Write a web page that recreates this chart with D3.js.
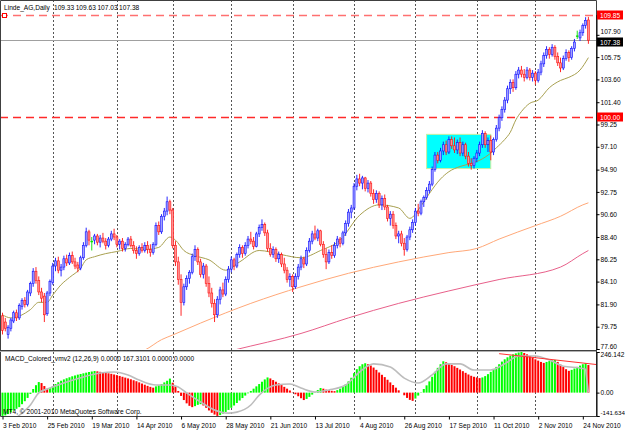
<!DOCTYPE html>
<html>
<head>
<meta charset="utf-8">
<script src="https://cdn.jsdelivr.net/npm/d3@7"></script>
<style>
  body { margin:0; background:#fff; }
  svg { display:block; font-family:"Liberation Sans", Arial, sans-serif; }
</style>
</head>
<body>
<svg id="drawing_region"></svg>
<script>
const symbolTitle = "Linde_AG,Daily";
const lastQuote = ["109.33", "109.63", "107.03", "107.38"];
const macdTitle = "MACD_Colored_vmv2 (12,26,9) 0.0000 167.3101 0.0000 0.0000";
const copyright = "MT4, \u00a9 2001-2010 MetaQuotes Software Corp.";

const dateLabels = ["3 Feb 2010","25 Feb 2010","19 Mar 2010","14 Apr 2010","6 May 2010","28 May 2010",
  "21 Jun 2010","13 Jul 2010","4 Aug 2010","26 Aug 2010","17 Sep 2010","11 Oct 2010","2 Nov 2010","24 Nov 2010"];
const dateLabelBars = [0,16,32,48,64,80,96,112,128,144,160,176,192,208];
const monthStartBars = [18,41,61,82,104,126,148,170,191];

const priceTicks = [77.60,79.75,81.90,84.10,86.25,88.40,90.60,92.75,94.90,97.10,99.25,101.40,103.60,105.75,107.90];
const levelLines = [109.85, 100.00];
const bidPrice = 107.38;
const macdTicks = [246.142, 0, -141.634];
const macdRange = [-141.634, 246.142];
const zone = {from:152, to:175, low:95.0, high:98.3};

// daily bars [open, high, low, close]
const ohlc = [
  // Feb
  [80.8,81.1,79.0,79.4],[80.2,80.6,79.3,79.6],[79.0,79.9,78.6,79.7],[79.6,80.6,79.3,80.4],[80.3,81.3,80.1,81.1],
  [81.1,81.4,80.3,80.6],[80.6,82.0,80.4,81.8],[81.7,82.5,81.4,82.3],[82.3,82.6,81.6,81.9],[81.9,83.3,81.7,83.1],
  [83.0,84.1,82.7,83.9],[83.9,85.4,83.6,85.1],[85.1,85.5,83.9,84.2],[84.2,84.6,82.8,83.1],[83.1,83.5,82.1,82.5],
  [82.7,83.0,80.2,80.9],[81.0,83.2,80.8,83.0],[83.0,84.3,82.7,84.1],
  // Mar
  [84.0,85.9,83.8,85.6],[85.6,86.4,85.1,86.1],[86.1,86.5,84.9,85.2],[85.2,85.8,84.6,85.5],[85.5,86.6,85.2,86.3],
  [86.3,86.7,85.6,85.9],[85.9,86.9,85.7,86.6],[86.6,87.0,85.8,86.0],[86.0,86.4,85.3,85.6],[85.7,86.0,85.0,85.4],
  [85.4,86.6,85.2,86.4],[86.4,87.9,86.2,87.6],[87.6,89.3,87.4,88.9],[88.9,89.1,87.6,88.1],[88.0,88.4,87.1,88.0],
  [88.1,88.7,87.7,88.5],[88.5,88.7,87.6,87.9],[87.9,88.6,87.4,88.3],[88.3,88.8,87.8,88.0],[88.0,88.3,87.2,87.6],
  [87.6,88.4,87.4,88.2],[88.2,89.0,88.0,88.7],[88.7,89.2,88.1,88.4],
  // Apr
  [88.4,88.6,87.4,87.7],[87.7,88.2,87.2,88.0],[88.0,88.3,87.0,87.3],[87.3,87.9,87.0,87.7],[87.7,88.4,87.5,88.2],
  [88.2,88.5,87.4,87.6],[87.6,88.0,86.8,87.1],[87.1,87.5,86.3,86.8],[86.8,87.6,86.6,87.4],[87.4,87.8,86.9,87.1],
  [87.1,87.9,86.9,87.6],[87.6,88.0,86.8,87.2],[87.2,87.7,86.5,86.9],[86.9,87.9,86.7,87.7],[87.7,89.8,87.5,89.5],
  [89.5,89.9,88.6,88.9],[88.9,90.6,88.7,90.4],[90.4,91.2,90.0,90.9],[90.9,92.3,90.5,91.8],[91.8,92.0,90.6,91.0],
  // May
  [91.0,91.2,87.3,87.6],[87.6,88.0,85.6,86.0],[86.0,86.5,83.8,84.3],[84.3,84.8,80.8,82.1],[82.1,83.9,81.8,83.6],
  [83.6,84.7,83.3,84.4],[84.4,85.2,83.9,85.0],[85.0,86.8,84.8,86.5],[86.5,87.6,86.1,87.2],[87.2,87.4,85.7,86.0],
  [86.0,86.3,84.5,84.8],[84.8,85.9,84.4,85.6],[85.6,85.8,83.6,83.9],[83.9,84.6,82.6,83.0],[83.0,83.5,81.6,82.0],
  [82.0,82.4,80.2,80.9],[80.9,82.7,80.6,82.4],[82.4,83.6,81.9,83.3],[83.3,84.0,82.6,82.9],[82.9,84.6,82.7,84.3],
  [84.3,85.6,84.0,85.3],
  // Jun
  [85.3,86.5,85.0,86.2],[86.2,86.4,85.2,85.6],[85.6,86.9,85.4,86.7],[86.7,87.7,86.4,87.4],[87.4,87.6,86.4,86.8],
  [86.8,87.9,86.6,87.6],[87.6,88.5,87.3,88.2],[88.2,88.9,87.7,88.0],[88.0,88.4,87.2,87.5],[87.5,88.9,87.4,88.7],
  [88.7,89.6,88.4,89.3],[89.3,90.1,89.0,89.6],[89.6,89.8,88.5,88.8],[88.8,89.1,87.0,87.3],[87.3,87.8,86.5,86.7],
  [86.7,87.5,86.4,87.2],[87.2,87.4,86.0,86.3],[86.3,87.0,85.9,86.7],[86.7,86.9,85.5,85.8],[85.8,86.4,84.9,85.2],
  [85.2,85.5,84.0,84.3],[84.3,84.9,83.6,84.6],
  // Jul
  [84.6,84.8,83.1,83.6],[83.6,84.9,83.4,84.6],[84.6,85.8,84.3,85.5],[85.5,86.6,85.2,86.3],[86.3,86.5,85.4,85.8],
  [85.8,87.4,85.6,87.1],[87.1,88.3,86.9,88.0],[88.0,89.0,87.7,88.7],[88.7,89.5,88.1,88.3],[88.3,89.2,88.0,89.0],
  [89.0,89.1,87.5,87.7],[87.7,88.0,86.4,86.7],[86.7,87.3,85.3,86.0],[86.0,87.2,85.8,86.9],[86.9,87.6,86.3,86.6],
  [86.6,87.9,86.4,87.6],[87.6,88.5,87.3,88.2],[88.2,88.4,87.4,87.8],[87.8,89.0,87.6,88.8],[88.8,90.0,88.5,89.7],
  [89.7,91.1,89.4,90.8],[90.8,91.5,90.2,91.2],
  // Aug
  [91.2,93.6,91.0,93.3],[93.3,94.4,92.9,94.0],[94.0,94.5,93.3,93.6],[93.6,94.3,93.0,94.1],[94.1,94.2,92.8,93.1],
  [93.1,93.9,92.7,93.6],[93.6,93.8,92.3,92.6],[92.6,93.0,91.6,92.0],[92.0,92.9,91.7,92.6],[92.6,92.8,91.2,91.5],
  [91.5,92.4,91.0,92.1],[92.1,92.5,91.0,91.3],[91.3,91.5,89.9,90.2],[90.2,90.9,89.5,90.6],[90.6,90.9,89.2,89.5],
  [89.5,89.8,88.2,88.5],[88.5,89.0,87.8,88.7],[88.7,89.0,87.5,87.8],[87.8,88.3,86.6,87.2],[87.2,88.6,87.0,88.4],
  [88.4,89.4,88.1,89.1],[89.1,90.1,88.8,89.8],
  // Sep
  [89.8,91.2,89.5,90.9],[90.9,91.6,90.4,90.7],[90.7,92.0,90.5,91.8],[91.8,92.4,91.3,92.2],[92.2,93.2,92.0,92.9],
  [92.9,93.8,92.6,93.5],[93.5,95.2,93.3,94.9],[94.9,96.6,94.7,96.3],[96.3,96.6,95.5,95.8],[95.8,97.0,95.6,96.7],
  [96.7,97.6,96.3,97.3],[97.3,97.7,96.3,96.6],[96.6,98.1,96.4,97.8],[97.8,98.1,96.9,97.2],[97.2,98.0,96.5,96.8],
  [96.8,97.8,96.4,97.5],[97.5,98.0,96.2,96.5],[96.5,97.6,96.2,97.3],[97.3,97.5,95.9,96.2],[96.2,96.6,95.2,95.5],
  [95.5,96.0,94.9,95.3],[95.3,96.2,95.0,96.0],
  // Oct
  [96.0,96.8,95.6,96.5],[96.5,97.6,96.2,97.3],[97.3,98.7,97.0,98.4],[98.4,98.6,97.0,97.3],[97.3,98.0,96.6,97.7],
  [97.7,98.2,95.8,96.6],[96.6,98.0,96.3,97.8],[97.8,99.2,97.6,98.9],[98.9,100.2,98.6,99.9],[99.9,101.0,99.6,100.7],
  [100.7,101.9,100.4,101.6],[101.6,103.0,101.3,102.7],[102.7,103.6,102.2,103.3],[103.3,103.6,102.4,102.8],
  [102.8,104.4,102.6,104.1],[104.1,104.8,103.7,104.5],[104.5,104.9,103.8,104.1],[104.1,104.6,103.4,103.8],
  [103.8,104.8,103.6,104.5],[104.5,104.7,103.5,103.8],[103.8,104.5,103.4,104.2],
  // Nov
  [104.2,104.4,103.1,103.5],[103.5,104.6,103.3,104.3],[104.3,105.4,104.0,105.1],[105.1,106.2,104.8,105.9],
  [105.9,106.8,105.6,106.5],[106.5,106.7,105.6,106.0],[106.0,107.0,105.8,106.7],[106.7,106.9,105.5,105.8],
  [105.8,106.2,104.9,105.2],[105.2,105.7,104.3,104.7],[104.7,105.9,104.5,105.6],[105.6,106.5,105.4,106.2],
  [106.2,106.4,105.3,105.7],[105.7,106.8,105.5,106.6],[106.6,107.5,106.3,107.2],[107.8,108.3,107.5,107.8],
  [107.6,108.4,107.3,108.1],[108.1,109.0,107.8,108.8],[108.8,109.6,108.5,109.3],[109.33,109.63,107.03,107.38]
];

// moving averages read at [bar, price]
const maFast = [[0,80.9],[3,80.6],[10,81.4],[13,82.1],[16,82.1],[18,82.8],[21,83.8],[24,84.5],[28,85.4],[30,86.2],
  [33,86.5],[37,86.8],[41,87.0],[46,87.3],[51,87.2],[56,87.4],[60,88.4],[62,88.1],[65,87.1],[69,86.6],[74,86.2],
  [80,85.2],[85,86.0],[92,87.1],[100,86.7],[107,86.4],[114,87.1],[121,88.1],[128,90.5],[135,91.5],[142,91.2],
  [146,90.2],[150,91.4],[153,92.6],[157,94.0],[160,94.7],[164,95.2],[168,95.5],[171,95.8],[175,96.5],[177,97.0],
  [180,97.8],[182,98.5],[184,99.7],[186,100.5],[189,101.3],[192,101.6],[196,102.8],[200,103.5],[203,103.8],
  [207,104.5],[210,105.7]];
const maMid = [[48,77.2],[51,77.5],[57,78.5],[61,78.95],[71,80.1],[89,82.0],[107,83.6],[124,84.9],[142,86.0],
  [160,86.9],[170,87.3],[178,88.2],[191,89.5],[200,90.4],[208,91.5],[210,91.7]];
const maSlow = [[80,77.3],[83,77.5],[107,79.1],[124,80.6],[142,82.0],[160,83.2],[178,84.3],[200,85.5],[208,86.8],[210,87.1]];

// MACD histogram, one value per bar
const macdHist = [
  -141,-138,-130,-120,-108,-98,-88,-70,-52,-32,-8,
  22,45,64,58,40,22,
  28,38,52,63,72,80,87,93,99,104,109,113,117,121,125,128,131,
  129,126,123,120,117,114,110,106,101,96,91,86,81,75,69,62,55,48,41,35,30,
  38,44,52,62,72,85,
  60,38,10,-20,-45,-65,-80,-88,
  -82,-74,-70,
  -78,-92,-108,-122,-133,-141,
  -136,-127,-117,-105,-92,-78,-63,-48,-33,-18,-4,10,24,38,52,66,80,92,
  86,76,66,56,46,35,24,13,2,-10,-22,-34,-45,
  -38,-26,-12,2,16,28,
  24,18,14,11,9,
  15,24,36,50,68,90,118,142,160,172,178,
  172,164,152,138,122,108,94,78,62,46,30,14,0,-16,-32,-44,-50,
  -36,-18,2,22,44,68,96,126,150,172,190,
  184,176,168,160,150,140,130,120,110,102,96,92,88,
  92,100,112,126,140,156,172,188,202,214,224,232,238,243,246,
  240,232,222,212,202,194,186,180,
  186,191,195,198,
  186,170,155,142,132,
  138,146,156,164,172,178,
  167.31
];
// signal line read at [bar, value]
const macdSignal = [[0,-200],[5,-150],[10,-75],[13,-2],[17,28],[23,64],[29,95],[35,119],[40,125],[45,107],[49,76],
  [55,46],[60,46],[63,34],[66,-2],[71,-57],[76,-105],[81,-124],[84,-118],[89,-75],[92,-15],[98,46],[103,52],
  [107,28],[112,4],[117,16],[123,46],[128,125],[133,174],[139,155],[144,88],[149,58],[154,107],[159,174],
  [164,174],[169,137],[175,137],[180,174],[185,222],[191,222],[196,198],[201,160],[207,149],[209,143],[210,0]];
const macdTrend = [[178,236],[213,170]];

const config = {
  parent: '#drawing_region',
  width: 625, height: 432,
  right: 596,
  main: {top: 1, bottom: 349},
  macd: {top: 352, bottom: 416},
  firstX: 2.5, step: 2.79
};

class Mt4Chart {
  constructor(config) {
    this.config = config;
    this.init();
  }
  init() {
    let self = this;
    const c = self.config;
    self.svg = d3.select(c.parent).attr('width', c.width).attr('height', c.height);
    self.svg.append('rect').attr('width', c.width).attr('height', c.height).attr('fill', '#fff');

    self.xscale = d3.scaleLinear().domain([0, ohlc.length - 1])
        .range([c.firstX, c.firstX + c.step * (ohlc.length - 1)]);
    self.yscale = d3.scaleLinear().domain([77.6, 109.85]).range([c.main.bottom, 14.6]);
    self.mscale = d3.scaleLinear().domain(macdRange).range([c.macd.bottom, c.macd.top]);

    const defs = self.svg.append('defs');
    defs.append('clipPath').attr('id', 'clipMain').append('rect')
        .attr('x', 0).attr('y', c.main.top).attr('width', c.right).attr('height', c.main.bottom - c.main.top);
    defs.append('clipPath').attr('id', 'clipMacd').append('rect')
        .attr('x', 0).attr('y', c.macd.top).attr('width', c.right).attr('height', c.macd.bottom - c.macd.top);
  }
  render() {
    this.drawGrid();
    this.drawMain();
    this.drawMacd();
    this.drawAxes();
    this.drawTexts();
  }
  drawGrid() {
    let self = this;
    const c = self.config;
    self.svg.append('g').selectAll('line').data(monthStartBars).join('line')
        .attr('x1', d => Math.round(self.xscale(d)) + 0.5).attr('x2', d => Math.round(self.xscale(d)) + 0.5)
        .attr('y1', 0).attr('y2', c.macd.bottom)
        .attr('stroke', '#555').attr('stroke-dasharray', '2,2');
  }
  drawMain() {
    let self = this;
    const c = self.config;
    const g = self.svg.append('g').attr('clip-path', 'url(#clipMain)');
    const x = self.xscale, y = self.yscale;

    // highlighted zone
    g.append('rect')
        .attr('x', x(zone.from)).attr('width', x(zone.to) - x(zone.from))
        .attr('y', y(zone.high)).attr('height', y(zone.low) - y(zone.high))
        .attr('fill', '#00ffff').attr('stroke', '#c8f0a0').attr('stroke-width', 1);

    // horizontal levels
    g.append('line').attr('x1', 0).attr('x2', c.right)
        .attr('y1', Math.round(y(bidPrice)) + 0.5).attr('y2', Math.round(y(bidPrice)) + 0.5)
        .attr('stroke', '#a0a0a0');
    g.selectAll('line.level').data(levelLines).join('line').attr('class', 'level')
        .attr('x1', 0).attr('x2', c.right)
        .attr('y1', d => Math.round(y(d)) + 0.5).attr('y2', d => Math.round(y(d)) + 0.5)
        .attr('stroke', (d, i) => i === 0 ? '#ff7070' : '#ff2a2a')
        .attr('stroke-width', 1.3)
        .attr('stroke-dasharray', '8,5');
    g.append('rect').attr('x', 2.5).attr('y', Math.round(y(levelLines[0])) - 1.5)
        .attr('width', 4).attr('height', 4).attr('fill', '#fff').attr('stroke', '#ff0000');

    // moving averages
    const line = d3.line().x(d => x(d[0])).y(d => y(d[1])).curve(d3.curveMonotoneX);
    [[maSlow, '#e8608a'], [maMid, '#ffa878'], [maFast, '#a8a050']].forEach(([data, col]) => {
      g.append('path').attr('d', line(data)).attr('fill', 'none')
          .attr('stroke', col).attr('stroke-width', 1);
    });

    // candles
    const color = d => d[0] === d[3] ? '#00e000' : (d[3] > d[0] ? '#1010ff' : '#ff1010');
    const fill = d => d[0] === d[3] ? '#00e000' : (d[3] > d[0] ? '#a0a0ff' : '#ff9090');
    g.selectAll('line.wick').data(ohlc).join('line').attr('class', 'wick')
        .attr('x1', (d, i) => x(i)).attr('x2', (d, i) => x(i))
        .attr('y1', d => y(d[1])).attr('y2', d => y(d[2]))
        .attr('stroke', color).attr('stroke-width', 0.9);
    g.selectAll('rect.body').data(ohlc).join('rect').attr('class', 'body')
        .attr('x', (d, i) => x(i) - 1).attr('width', 2)
        .attr('y', d => y(Math.max(d[0], d[3])))
        .attr('height', d => Math.max(0.8, Math.abs(y(d[0]) - y(d[3]))))
        .attr('fill', fill).attr('stroke', color).attr('stroke-width', 0.6);
  }
  drawMacd() {
    let self = this;
    const c = self.config;
    const x = self.xscale, m = self.mscale;
    const g = self.svg.append('g').attr('clip-path', 'url(#clipMacd)');
    g.selectAll('rect').data(macdHist).join('rect')
        .attr('x', (d, i) => x(i) - 1).attr('width', 2)
        .attr('y', d => Math.min(m(d), m(0))).attr('height', d => Math.abs(m(d) - m(0)))
        .attr('fill', (d, i) => (i === 0 || d > macdHist[i - 1]) ? '#00ff00' : '#ff0000');
    const line = d3.line().x(d => x(d[0])).y(d => m(d[1]));
    g.append('path').attr('d', line.curve(d3.curveMonotoneX)(macdSignal.slice(0, -1)))
        .attr('fill', 'none').attr('stroke', '#bdbdbd').attr('stroke-width', 1.6);
    g.append('path').attr('d', d3.line().x(d => x(d[0])).y(d => m(d[1]))(macdSignal.slice(-2)))
        .attr('fill', 'none').attr('stroke', '#bdbdbd').attr('stroke-width', 1.6);
    g.append('path').attr('d', d3.line().x(d => x(d[0])).y(d => m(d[1]))(macdTrend))
        .attr('fill', 'none').attr('stroke', '#ff3030').attr('stroke-width', 1);
  }
  drawAxes() {
    let self = this;
    const c = self.config;
    // frame and window separator
    self.svg.append('path')
        .attr('d', `M0.5,0.5H${c.right + 0.5}V${c.macd.bottom + 0.5}H0.5Z M0.5,${c.main.bottom + 1.5}H${c.right}`)
        .attr('fill', 'none').attr('stroke', '#404040');
    self.svg.append('line').attr('x1', 0).attr('x2', c.right)
        .attr('y1', c.macd.top - 0.5).attr('y2', c.macd.top - 0.5).attr('stroke', '#b0b0b0');

    const yaxis = d3.axisRight(self.yscale).tickValues(priceTicks).tickFormat(d => d.toFixed(2))
        .tickSize(3).tickPadding(1);
    const yg = self.svg.append('g').attr('transform', `translate(${c.right + 0.5},0)`).call(yaxis);
    const maxis = d3.axisRight(self.mscale).tickValues(macdTicks)
        .tickFormat(d => d === 0 ? '0.00' : String(d)).tickSize(3).tickPadding(1);
    const mg = self.svg.append('g').attr('transform', `translate(${c.right + 0.5},0)`).call(maxis);
    const xaxis = d3.axisBottom(self.xscale).tickValues(dateLabelBars)
        .tickFormat((d, i) => dateLabels[i]).tickSize(3).tickPadding(4);
    const xg = self.svg.append('g').attr('transform', `translate(0,${c.macd.bottom + 0.5})`).call(xaxis);

    [yg, mg, xg].forEach(a => {
      a.selectAll('.domain').attr('stroke', '#000');
      a.selectAll('.tick line').attr('stroke', '#000');
      a.selectAll('text').attr('font-size', '6.6px').attr('fill', '#000')
          .attr('font-family', '"Liberation Sans", Arial, sans-serif');
    });
    xg.selectAll('text').attr('text-anchor', 'start');
    xg.select('.domain').remove();
    yg.selectAll('.tick').filter(d => d === 77.6).select('text').attr('dy', '-0.1em');
    yg.selectAll('.tick').filter(d => d === 107.9).select('text').attr('dy', '-0.15em');
    mg.selectAll('.tick').filter(d => d === macdRange[1]).select('text').attr('dy', '0.75em');
    mg.selectAll('.tick').filter(d => d === macdRange[0]).select('text')
        .attr('dy', '-0.2em').attr('font-size', '6.2px');

    // price tags
    const tags = [[levelLines[0], '#ff0000', 0], [bidPrice, '#000', 2], [levelLines[1], '#ff0000', 0]];
    const tg = self.svg.append('g').selectAll('g').data(tags).join('g')
        .attr('transform', d => `translate(${c.right + 1},${Math.round(self.yscale(d[0])) + d[2]})`);
    tg.append('rect').attr('x', 0).attr('y', -4.5).attr('width', 26).attr('height', 9).attr('fill', d => d[1]);
    tg.append('text').attr('x', 3).attr('y', 2.5).attr('font-size', '6.6px').attr('fill', '#fff')
        .text(d => d[0].toFixed(2));
  }
  drawTexts() {
    let self = this;
    const t = self.svg.append('g').attr('font-size', '6.6px').attr('fill', '#000');
    t.append('text').attr('x', 4).attr('y', 9.5).text(symbolTitle);
    t.selectAll('text.q').data(lastQuote).join('text').attr('class', 'q')
        .attr('x', (d, i) => 54 + i * 21.7).attr('y', 9.5).text(d => d);
    t.append('text').attr('x', 5).attr('y', 361).text(macdTitle);
    t.append('text').attr('x', 3).attr('y', 414).text(copyright);
  }
}

const chart = new Mt4Chart(config);
chart.render();
</script>
</body>
</html>
